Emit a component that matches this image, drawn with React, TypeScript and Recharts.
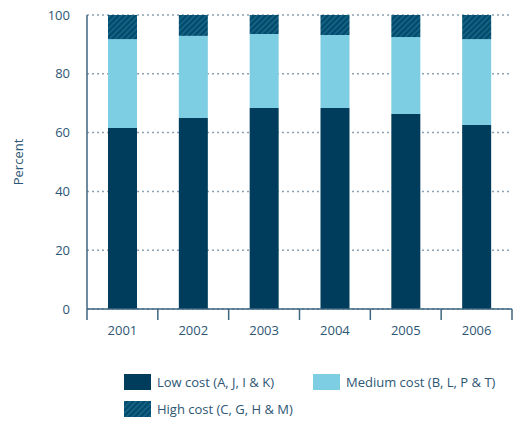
import React from "react";
import { BarChart, Bar, XAxis, YAxis, CartesianGrid, Label } from "recharts";

const years = ["2001", "2002", "2003", "2004", "2005", "2006"];
const lowCost = [61.6, 65.0, 68.4, 68.4, 66.3, 62.6];
const mediumCost = [30.2, 27.9, 25.1, 24.8, 26.2, 29.2];
const highCost = [8.2, 7.1, 6.5, 6.8, 7.5, 8.2];
const yTicks = [0, 20, 40, 60, 80, 100];

const data = years.map((year, i) => ({
  year,
  low: lowCost[i],
  medium: mediumCost[i],
  high: highCost[i],
}));

const W = 517;
const H = 422;
const MARGIN = { top: 15, right: 5, left: 0, bottom: 0 };
const Y_WIDTH = 87;
const X_HEIGHT = 113;
const BAND = (W - MARGIN.left - MARGIN.right - Y_WIDTH) / years.length;

const TEXT = "#2d5674";
const AXIS = "#3d6680";
const LOW = "#003d5c";
const MEDIUM = "#7dcde3";
const FONT = "'Open Sans', sans-serif";

// category ticks sit on the band edges, labels in the middle
function YearTick(props: any) {
  const { x, y, payload, index } = props;
  const left = x - BAND / 2;
  return (
    <g>
      <line x1={left} y1={y} x2={left} y2={y + 11} stroke={AXIS} strokeWidth={1.5} />
      {index === years.length - 1 && (
        <line x1={x + BAND / 2} y1={y} x2={x + BAND / 2} y2={y + 11} stroke={AXIS} strokeWidth={1.5} />
      )}
      <text x={x} y={y + 26} textAnchor="middle" fill={TEXT} fontSize={13} fontFamily={FONT}>
        {payload.value}
      </text>
    </g>
  );
}

function Hatch({ id }: { id: string }) {
  return (
    <pattern id={id} width="4" height="4" patternUnits="userSpaceOnUse" patternTransform="rotate(45)">
      <rect width="4" height="4" fill="#004a6c" />
      <rect width="1.5" height="4" fill="#1b6889" />
    </pattern>
  );
}

function Swatch({ fill }: { fill: string }) {
  return (
    <svg width={27} height={16} style={{ display: "block" }}>
      <rect width={27} height={16} fill={fill} />
    </svg>
  );
}

export default function App() {
  return (
    <div style={{ position: "relative", width: W, height: H, fontFamily: FONT }}>
      <style>{"body{margin:0}"}</style>
      <BarChart width={W} height={H} data={data} margin={MARGIN} barCategoryGap={0}>
        <defs>
          <Hatch id="hatch" />
        </defs>
        <CartesianGrid
          vertical={false}
          horizontal
          stroke="#8aa2b4"
          strokeDasharray="2 3"
          strokeWidth={1.5}
        />
        <XAxis
          dataKey="year"
          height={X_HEIGHT}
          axisLine={{ stroke: AXIS, strokeWidth: 1.5 }}
          tickLine={false}
          tickSize={0}
          tickMargin={0}
          tick={<YearTick />}
          interval={0}
        />
        <YAxis
          width={Y_WIDTH}
          domain={[0, 100]}
          ticks={yTicks}
          interval={0}
          axisLine={{ stroke: AXIS, strokeWidth: 1.5 }}
          tickLine={false}
          tickSize={0}
          tickMargin={17}
          tick={{ fill: TEXT, fontSize: 13, fontFamily: FONT }}
        >
          <Label
            value="Percent"
            angle={-90}
            position="insideLeft"
            offset={18}
            style={{ fill: TEXT, fontSize: 13, fontFamily: FONT, textAnchor: "middle" }}
          />
        </YAxis>
        <Bar dataKey="low" stackId="a" fill={LOW} barSize={29} isAnimationActive={false} />
        <Bar dataKey="medium" stackId="a" fill={MEDIUM} barSize={29} isAnimationActive={false} />
        <Bar dataKey="high" stackId="a" fill="url(#hatch)" barSize={29} isAnimationActive={false} />
      </BarChart>
      <div
        style={{
          position: "absolute",
          left: 124,
          top: 373,
          display: "grid",
          gridTemplateColumns: "189px auto",
          rowGap: 9,
          color: TEXT,
          fontSize: 13,
        }}
      >
        <div style={{ display: "flex", alignItems: "center", gap: 6 }}>
          <Swatch fill={LOW} />
          <span>Low cost (A, J, I &amp; K)</span>
        </div>
        <div style={{ display: "flex", alignItems: "center", gap: 6 }}>
          <Swatch fill={MEDIUM} />
          <span>Medium cost (B, L, P &amp; T)</span>
        </div>
        <div style={{ display: "flex", alignItems: "center", gap: 6 }}>
          <svg width={27} height={16} style={{ display: "block" }}>
            <defs>
              <Hatch id="hatchKey" />
            </defs>
            <rect width={27} height={16} fill="url(#hatchKey)" />
          </svg>
          <span>High cost (C, G, H &amp; M)</span>
        </div>
      </div>
    </div>
  );
}
